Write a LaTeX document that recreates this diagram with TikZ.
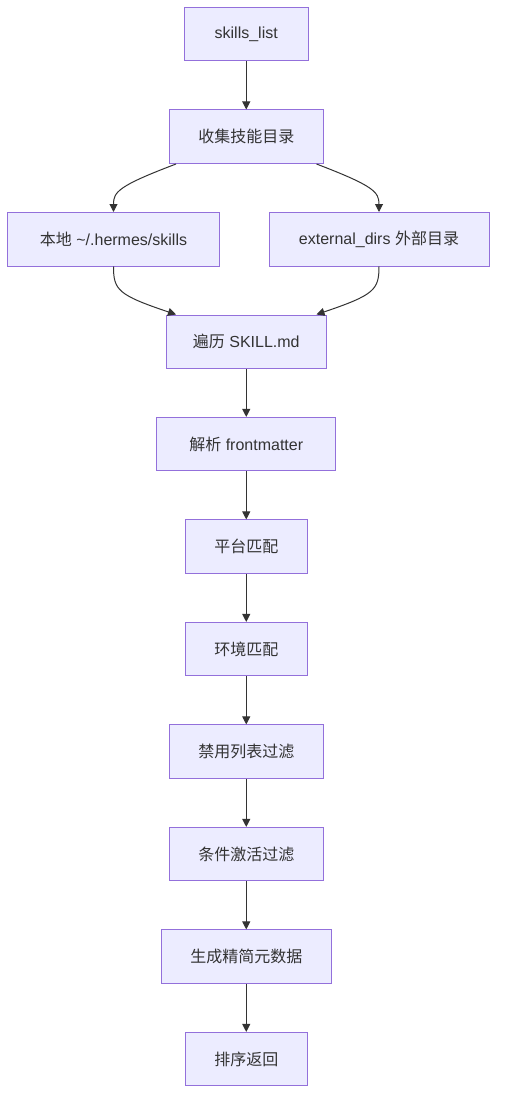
\documentclass[tikz,border=0pt]{standalone}
\usepackage{fontspec}
\setmainfont{Liberation Sans}
\newfontfamily\cjk{Noto Sans CJK SC}
\usetikzlibrary{arrows.meta,calc}
\definecolor{boxfill}{HTML}{ECECFF}
\definecolor{boxline}{HTML}{9370DB}
\definecolor{ink}{HTML}{333333}
\begin{document}
\begin{tikzpicture}[x=1pt,y=-1pt,
  box/.style={draw=boxline,fill=boxfill,line width=1pt,minimum height=53.5pt,inner sep=0pt,
    text=ink,font=\fontsize{16pt}{19pt}\selectfont,anchor=center},
  arr/.style={draw=ink,line width=1pt,-{Triangle[length=8pt,width=8pt]}}]
\useasboundingbox[fill=white] (0,0) rectangle (505,1110);
\node[box,minimum width=123.5pt] (sl) at (246.25,34.25) {skills\_list};
\node[box,minimum width=153.5pt] (col) at (246.25,136.75) {\cjk 收集技能目录};
\node[box,minimum width=212pt] (loc) at (113.5,239.25) {{\cjk 本地} \raisebox{0pt}{\textasciitilde}/.hermes/skills};
\node[box,minimum width=220pt] (ext) at (379,239.25) {external\_dirs {\cjk 外部目录}};
\node[box,minimum width=159.5pt] (trv) at (246.25,341.75) {{\cjk 遍历} SKILL.md};
\node[box,minimum width=179.3pt] (prs) at (246.25,444.2) {{\cjk 解析} frontmatter};
\node[box,minimum width=122pt] (plt) at (246.25,546.7) {\cjk 平台匹配};
\node[box,minimum width=122pt] (env) at (246.25,649.2) {\cjk 环境匹配};
\node[box,minimum width=154pt] (dis) at (246.25,751.7) {\cjk 禁用列表过滤};
\node[box,minimum width=154pt] (cnd) at (246.25,854.2) {\cjk 条件激活过滤};
\node[box,minimum width=170pt] (gen) at (246.25,956.7) {\cjk 生成精简元数据};
\node[box,minimum width=122pt] (srt) at (246.25,1059.2) {\cjk 排序返回};

\draw[arr] (sl) -- (col);
\draw[arr] ($(col.south west)+(7,0)$) .. controls (118,186) and (113.5,192) .. (loc.north);
\draw[arr] ($(col.south east)+(-7,0)$) .. controls (374,186) and (379,192) .. (ext.north);
\draw[arr] (loc.south) .. controls (113.5,290) and (118,295) .. ($(trv.north west)+(10,0)$);
\draw[arr] (ext.south) .. controls (379,290) and (374,295) .. ($(trv.north east)+(-10,0)$);
\draw[arr] (trv) -- (prs);
\draw[arr] (prs) -- (plt);
\draw[arr] (plt) -- (env);
\draw[arr] (env) -- (dis);
\draw[arr] (dis) -- (cnd);
\draw[arr] (cnd) -- (gen);
\draw[arr] (gen) -- (srt);
\end{tikzpicture}
\end{document}
